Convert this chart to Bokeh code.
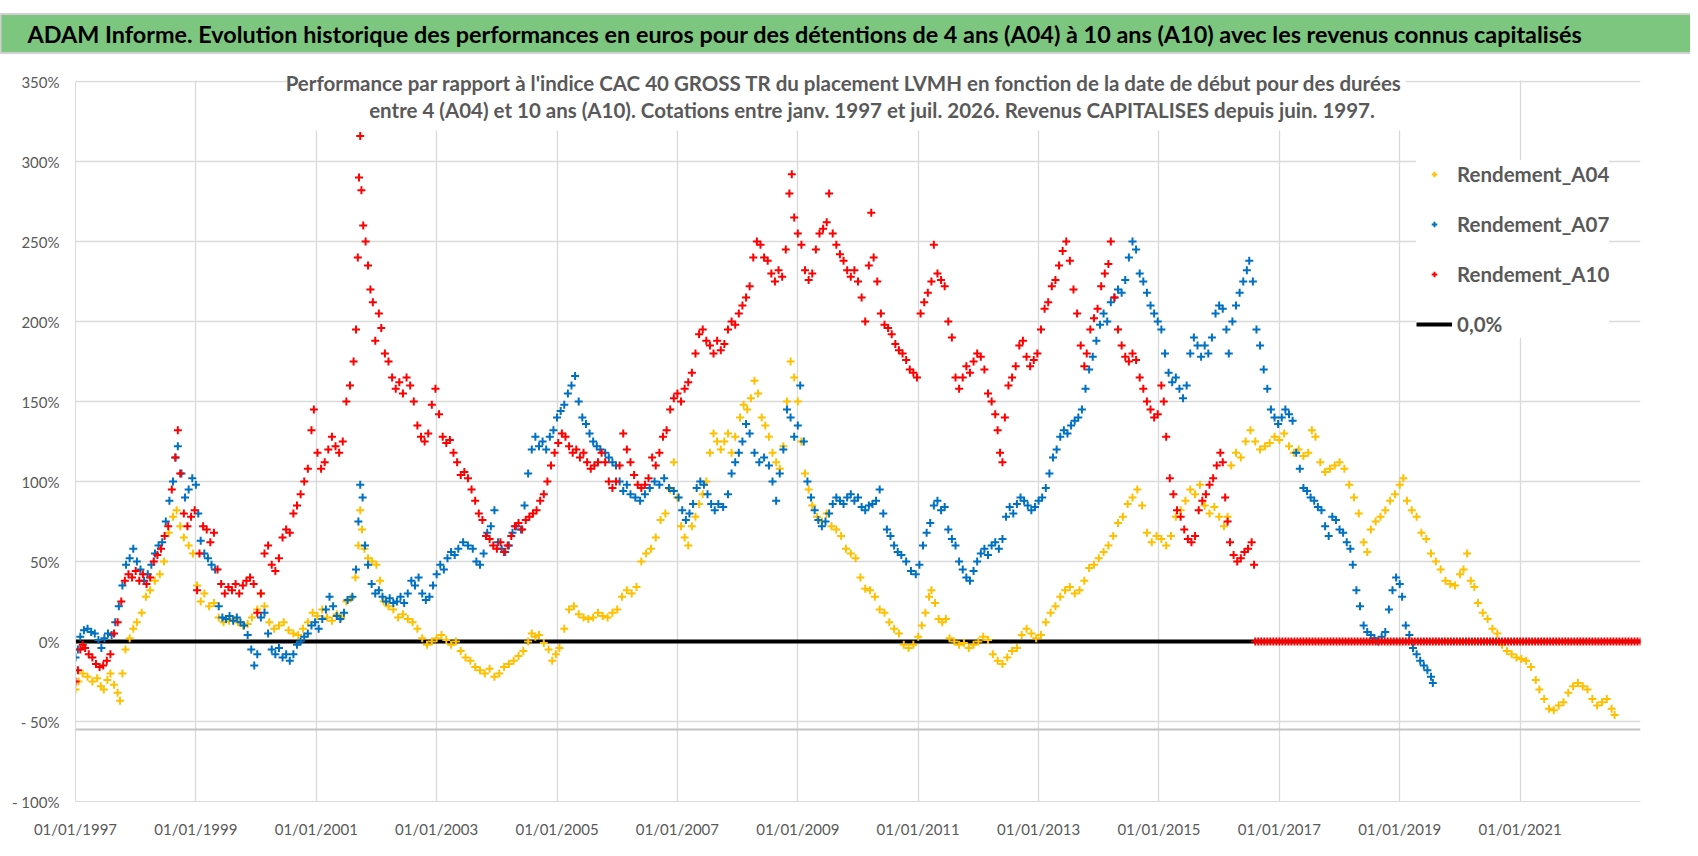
from bokeh.plotting import figure
from bokeh.models import Range1d, FixedTicker, Span, Legend, LegendItem, BoxAnnotation, Label
from bokeh.embed import file_html
from bokeh.resources import INLINE

#Texts
title_text = ("ADAM Informe. Evolution historique des performances en euros pour des détentions "
              "de 4 ans (A04) à 10 ans (A10) avec les revenus connus capitalisés")
subtitle_line1 = ("Performance par rapport à l'indice CAC 40 GROSS TR  du placement LVMH en fonction "
                  "de la date de début pour des durées")
subtitle_line2 = ("entre 4 (A04) et 10 ans (A10).  Cotations entre janv. 1997 et juil. 2026. "
                  "Revenus CAPITALISES depuis juin. 1997.")
series_names = ["Rendement_A04", "Rendement_A07", "Rendement_A10"]
zero_name = "0,0%"

#Ticks
x_ticks = [1997, 1999, 2001, 2003, 2005, 2007, 2009, 2011, 2013, 2015, 2017, 2019, 2021]
x_tick_labels = ["01/01/" + str(t) for t in x_ticks]
y_ticks = [-100, -50, 0, 50, 100, 150, 200, 250, 300, 350]
y_tick_labels = ["- 100%", "- 50%", "0%", "50%", "100%", "150%", "200%", "250%", "300%", "350%"]

#Data: (start date in years, performance in %)
a04_points = [
    (1997.00, -30), (1997.05, -25), (1997.12, -20), (1997.20, -22), (1997.28, -25), (1997.36, -23),
    (1997.42, -28), (1997.47, -30), (1997.53, -24), (1997.58, -20), (1997.64, -27), (1997.70, -32),
    (1997.74, -37), (1997.78, -20), (1997.83, -5), (1997.90, 2), (1997.96, 8), (1998.02, 12),
    (1998.10, 18), (1998.17, 28), (1998.24, 32), (1998.32, 38), (1998.40, 42), (1998.47, 50),
    (1998.55, 68), (1998.62, 78), (1998.68, 82), (1998.74, 72), (1998.80, 65), (1998.88, 60),
    (1998.95, 55), (1999.02, 35), (1999.08, 25), (1999.14, 30), (1999.22, 22), (1999.30, 24),
    (1999.38, 15), (1999.46, 12), (1999.55, 13), (1999.62, 14), (1999.70, 12), (1999.78, 10),
    (1999.86, 11), (1999.93, 15), (2000.02, 20), (2000.08, 30), (2000.14, 22), (2000.22, 12),
    (2000.30, 8), (2000.38, 10), (2000.46, 12), (2000.54, 7), (2000.62, 5), (2000.70, 4),
    (2000.78, 8), (2000.86, 12), (2000.94, 18), (2001.02, 16), (2001.10, 20), (2001.18, 15),
    (2001.26, 13), (2001.34, 17), (2001.42, 15), (2001.50, 25), (2001.58, 27), (2001.65, 40),
    (2001.70, 60), (2001.73, 82), (2001.76, 70), (2001.80, 58), (2001.86, 52), (2001.93, 50),
    (2002.00, 48), (2002.06, 38), (2002.12, 25), (2002.20, 22), (2002.28, 20), (2002.36, 15),
    (2002.44, 17), (2002.52, 14), (2002.60, 12), (2002.68, 8), (2002.76, 2), (2002.84, -2),
    (2002.92, 0), (2003.00, 2), (2003.08, 4), (2003.16, 1), (2003.24, -2), (2003.32, 0),
    (2003.40, -6), (2003.48, -10), (2003.56, -12), (2003.64, -16), (2003.72, -18), (2003.80, -20),
    (2003.88, -17), (2003.96, -22), (2004.04, -20), (2004.12, -16), (2004.20, -14), (2004.28, -12),
    (2004.36, -9), (2004.44, -6), (2004.52, 0), (2004.58, 5), (2004.64, 3), (2004.70, 4),
    (2004.78, -1), (2004.86, -5), (2004.92, -12), (2004.98, -8), (2005.04, -4), (2005.12, 8),
    (2005.20, 20), (2005.28, 22), (2005.36, 17), (2005.44, 15), (2005.52, 14), (2005.60, 15),
    (2005.68, 18), (2005.76, 16), (2005.84, 15), (2005.92, 18), (2006.00, 20), (2006.08, 28),
    (2006.16, 32), (2006.24, 30), (2006.32, 34), (2006.40, 50), (2006.48, 55), (2006.56, 58),
    (2006.64, 65), (2006.72, 76), (2006.80, 80), (2006.88, 95), (2006.94, 112), (2007.00, 90),
    (2007.06, 72), (2007.12, 65), (2007.18, 60), (2007.24, 72), (2007.30, 78), (2007.36, 86),
    (2007.42, 92), (2007.48, 100), (2007.54, 118), (2007.60, 130), (2007.66, 125), (2007.72, 120),
    (2007.78, 125), (2007.84, 130), (2007.90, 118), (2007.96, 128), (2008.04, 140), (2008.10, 148),
    (2008.16, 145), (2008.22, 152), (2008.28, 163), (2008.34, 155), (2008.40, 140), (2008.46, 135),
    (2008.52, 128), (2008.58, 118), (2008.64, 112), (2008.70, 108), (2008.76, 122), (2008.82, 150),
    (2008.88, 175), (2008.94, 165), (2009.00, 150), (2009.06, 125), (2009.12, 105), (2009.18, 95),
    (2009.24, 85), (2009.32, 78), (2009.40, 75), (2009.48, 80), (2009.56, 72), (2009.64, 70),
    (2009.72, 66), (2009.80, 58), (2009.88, 55), (2009.96, 52), (2010.04, 40), (2010.12, 33),
    (2010.20, 32), (2010.28, 28), (2010.36, 20), (2010.44, 18), (2010.52, 12), (2010.60, 8),
    (2010.68, 5), (2010.76, -2), (2010.84, -4), (2010.92, -2), (2011.00, 3), (2011.06, 10),
    (2011.12, 18), (2011.18, 28), (2011.22, 32), (2011.28, 24), (2011.34, 14), (2011.40, 12),
    (2011.46, 14), (2011.52, 2), (2011.60, 0), (2011.68, -2), (2011.76, -1), (2011.84, -4),
    (2011.92, -2), (2012.00, 0), (2012.08, 3), (2012.16, 1), (2012.24, -8), (2012.32, -12),
    (2012.40, -14), (2012.48, -10), (2012.56, -6), (2012.64, -4), (2012.72, 4), (2012.80, 8),
    (2012.88, 5), (2012.96, 2), (2013.04, 4), (2013.12, 12), (2013.20, 18), (2013.28, 22),
    (2013.36, 28), (2013.44, 32), (2013.52, 34), (2013.60, 30), (2013.68, 32), (2013.76, 38),
    (2013.84, 46), (2013.92, 48), (2014.00, 52), (2014.08, 56), (2014.16, 60), (2014.24, 66),
    (2014.32, 74), (2014.40, 78), (2014.48, 86), (2014.56, 90), (2014.64, 95), (2014.72, 85),
    (2014.80, 68), (2014.88, 62), (2014.96, 66), (2015.04, 64), (2015.12, 60), (2015.20, 66),
    (2015.28, 78), (2015.36, 82), (2015.44, 88), (2015.52, 95), (2015.60, 92), (2015.68, 98),
    (2015.76, 85), (2015.84, 80), (2015.92, 84), (2016.00, 78), (2016.08, 72), (2016.14, 78),
    (2016.20, 110), (2016.28, 118), (2016.36, 115), (2016.44, 125), (2016.52, 132), (2016.60, 125),
    (2016.68, 120), (2016.76, 122), (2016.84, 124), (2016.92, 128), (2017.00, 126), (2017.08, 130),
    (2017.16, 122), (2017.24, 118), (2017.32, 120), (2017.40, 116), (2017.48, 118), (2017.54, 132),
    (2017.60, 128), (2017.68, 112), (2017.76, 106), (2017.84, 108), (2017.92, 110), (2018.00, 112),
    (2018.08, 108), (2018.16, 98), (2018.24, 90), (2018.32, 80), (2018.40, 62), (2018.46, 56),
    (2018.52, 70), (2018.60, 75), (2018.68, 78), (2018.76, 82), (2018.84, 88), (2018.92, 92),
    (2019.00, 98), (2019.06, 102), (2019.12, 88), (2019.20, 82), (2019.28, 78), (2019.36, 68),
    (2019.44, 64), (2019.52, 55), (2019.60, 50), (2019.68, 45), (2019.76, 38), (2019.84, 36),
    (2019.92, 35), (2020.00, 42), (2020.06, 45), (2020.12, 55), (2020.18, 38), (2020.24, 34),
    (2020.30, 24), (2020.38, 18), (2020.46, 14), (2020.54, 8), (2020.62, 5), (2020.70, -2),
    (2020.78, -6), (2020.86, -8), (2020.94, -10), (2021.02, -11), (2021.10, -12), (2021.18, -16),
    (2021.26, -24), (2021.32, -30), (2021.40, -36), (2021.48, -42), (2021.56, -43), (2021.64, -40),
    (2021.72, -38), (2021.80, -32), (2021.88, -28), (2021.96, -26), (2022.04, -28), (2022.12, -30),
    (2022.20, -36), (2022.28, -40), (2022.36, -38), (2022.44, -36), (2022.52, -42), (2022.57, -46),
]

a07_points = [
    (1997.00, -10), (1997.04, -5), (1997.08, 3), (1997.14, 7), (1997.20, 8), (1997.26, 6),
    (1997.32, 5), (1997.38, 1), (1997.43, -4), (1997.48, 2), (1997.54, 5), (1997.60, 4),
    (1997.66, 12), (1997.72, 22), (1997.78, 35), (1997.84, 48), (1997.90, 52), (1997.96, 58),
    (1998.02, 50), (1998.08, 45), (1998.14, 38), (1998.20, 42), (1998.26, 48), (1998.32, 55),
    (1998.38, 60), (1998.44, 62), (1998.50, 75), (1998.56, 88), (1998.62, 100), (1998.66, 115),
    (1998.70, 122), (1998.76, 105), (1998.82, 90), (1998.88, 95), (1998.94, 102), (1999.00, 98),
    (1999.04, 80), (1999.08, 63), (1999.14, 55), (1999.20, 52), (1999.26, 48), (1999.32, 45),
    (1999.38, 22), (1999.44, 15), (1999.50, 14), (1999.56, 16), (1999.62, 13), (1999.68, 15),
    (1999.74, 12), (1999.80, 10), (1999.86, 4), (1999.92, -5), (1999.97, -15), (2000.02, -8),
    (2000.08, 15), (2000.14, 18), (2000.20, 5), (2000.26, -5), (2000.32, -8), (2000.38, -4),
    (2000.44, -10), (2000.50, -8), (2000.56, -12), (2000.62, -8), (2000.68, -2), (2000.74, 0),
    (2000.80, 3), (2000.86, 5), (2000.92, 10), (2000.98, 12), (2001.04, 8), (2001.10, 14),
    (2001.16, 20), (2001.22, 28), (2001.28, 22), (2001.34, 16), (2001.40, 14), (2001.46, 18),
    (2001.52, 26), (2001.60, 28), (2001.66, 45), (2001.70, 75), (2001.73, 98), (2001.77, 90),
    (2001.81, 60), (2001.86, 48), (2001.92, 36), (2001.98, 30), (2002.04, 32), (2002.10, 28),
    (2002.16, 25), (2002.22, 27), (2002.28, 24), (2002.34, 25), (2002.40, 28), (2002.46, 24),
    (2002.52, 30), (2002.58, 38), (2002.64, 35), (2002.70, 40), (2002.76, 30), (2002.82, 26),
    (2002.88, 28), (2002.94, 35), (2003.00, 42), (2003.06, 48), (2003.12, 45), (2003.18, 52),
    (2003.24, 56), (2003.30, 54), (2003.36, 58), (2003.44, 62), (2003.52, 60), (2003.60, 58),
    (2003.66, 50), (2003.72, 48), (2003.78, 55), (2003.84, 68), (2003.90, 72), (2003.96, 82),
    (2004.02, 62), (2004.08, 58), (2004.14, 56), (2004.20, 60), (2004.26, 68), (2004.32, 72),
    (2004.40, 70), (2004.46, 85), (2004.52, 105), (2004.58, 120), (2004.64, 128), (2004.70, 122),
    (2004.76, 125), (2004.82, 120), (2004.88, 128), (2004.94, 132), (2005.00, 140), (2005.06, 144),
    (2005.12, 148), (2005.18, 155), (2005.24, 160), (2005.30, 166), (2005.36, 150), (2005.42, 140),
    (2005.48, 136), (2005.54, 130), (2005.60, 125), (2005.66, 122), (2005.72, 120), (2005.80, 118),
    (2005.86, 115), (2005.92, 112), (2005.98, 110), (2006.04, 100), (2006.10, 94), (2006.16, 98),
    (2006.22, 92), (2006.30, 90), (2006.38, 88), (2006.46, 92), (2006.54, 96), (2006.62, 100),
    (2006.70, 98), (2006.78, 102), (2006.86, 96), (2006.94, 94), (2007.02, 90), (2007.08, 82),
    (2007.14, 76), (2007.20, 80), (2007.26, 86), (2007.32, 96), (2007.38, 100), (2007.44, 98),
    (2007.50, 92), (2007.56, 86), (2007.62, 82), (2007.68, 86), (2007.76, 84), (2007.84, 92),
    (2007.90, 105), (2007.96, 112), (2008.02, 118), (2008.08, 125), (2008.14, 136), (2008.20, 130),
    (2008.28, 118), (2008.36, 112), (2008.44, 115), (2008.52, 110), (2008.58, 100), (2008.64, 88),
    (2008.70, 105), (2008.76, 120), (2008.82, 145), (2008.88, 140), (2008.94, 128), (2009.00, 135),
    (2009.04, 160), (2009.10, 125), (2009.16, 100), (2009.22, 90), (2009.28, 82), (2009.34, 76),
    (2009.40, 72), (2009.46, 75), (2009.52, 80), (2009.58, 86), (2009.64, 90), (2009.70, 88),
    (2009.76, 86), (2009.82, 90), (2009.88, 92), (2009.94, 88), (2010.00, 90), (2010.06, 84),
    (2010.12, 82), (2010.18, 85), (2010.24, 86), (2010.30, 88), (2010.36, 95), (2010.42, 80),
    (2010.48, 70), (2010.54, 66), (2010.60, 60), (2010.66, 56), (2010.72, 54), (2010.80, 50),
    (2010.88, 44), (2010.96, 42), (2011.02, 48), (2011.08, 60), (2011.14, 68), (2011.20, 74),
    (2011.26, 85), (2011.32, 88), (2011.38, 82), (2011.44, 84), (2011.50, 70), (2011.56, 64),
    (2011.62, 60), (2011.68, 50), (2011.74, 45), (2011.80, 40), (2011.86, 38), (2011.92, 44),
    (2011.98, 50), (2012.04, 55), (2012.10, 58), (2012.16, 54), (2012.22, 60), (2012.28, 62),
    (2012.34, 58), (2012.40, 64), (2012.46, 78), (2012.52, 84), (2012.58, 80), (2012.64, 86),
    (2012.70, 90), (2012.76, 88), (2012.82, 85), (2012.88, 82), (2012.94, 84), (2013.00, 88),
    (2013.06, 90), (2013.12, 96), (2013.18, 105), (2013.24, 115), (2013.30, 120), (2013.36, 128),
    (2013.42, 132), (2013.48, 130), (2013.54, 135), (2013.60, 138), (2013.66, 140), (2013.72, 145),
    (2013.78, 158), (2013.84, 170), (2013.90, 178), (2013.96, 188), (2014.02, 198), (2014.08, 205),
    (2014.14, 200), (2014.20, 212), (2014.26, 215), (2014.32, 220), (2014.38, 218), (2014.44, 226),
    (2014.50, 240), (2014.56, 250), (2014.62, 245), (2014.68, 230), (2014.74, 225), (2014.80, 218),
    (2014.86, 210), (2014.92, 205), (2014.98, 200), (2015.04, 195), (2015.10, 180), (2015.16, 168),
    (2015.22, 162), (2015.28, 165), (2015.34, 158), (2015.40, 152), (2015.46, 160), (2015.52, 180),
    (2015.58, 190), (2015.64, 185), (2015.70, 178), (2015.76, 185), (2015.82, 180), (2015.88, 190),
    (2015.94, 205), (2016.00, 210), (2016.06, 208), (2016.12, 195), (2016.16, 180), (2016.22, 200),
    (2016.28, 210), (2016.34, 218), (2016.40, 225), (2016.46, 232), (2016.50, 238), (2016.56, 225),
    (2016.62, 195), (2016.68, 185), (2016.74, 170), (2016.80, 158), (2016.86, 145), (2016.92, 140),
    (2016.98, 136), (2017.04, 140), (2017.10, 145), (2017.16, 142), (2017.22, 138), (2017.28, 118),
    (2017.34, 108), (2017.40, 96), (2017.46, 94), (2017.52, 90), (2017.58, 88), (2017.64, 84),
    (2017.70, 82), (2017.76, 72), (2017.82, 66), (2017.88, 78), (2017.94, 76), (2018.00, 70),
    (2018.06, 68), (2018.12, 62), (2018.18, 58), (2018.22, 48), (2018.28, 32), (2018.34, 22),
    (2018.40, 10), (2018.46, 6), (2018.52, 4), (2018.58, 2), (2018.64, 0), (2018.70, 3),
    (2018.76, 6), (2018.82, 20), (2018.88, 32), (2018.94, 40), (2019.00, 36), (2019.04, 28),
    (2019.10, 10), (2019.16, 4), (2019.22, -4), (2019.28, -8), (2019.34, -12), (2019.40, -15),
    (2019.46, -18), (2019.52, -22), (2019.55, -26),
]

a10_points = [
    (1997.00, -25), (1997.04, -18), (1997.08, -5), (1997.12, -2), (1997.16, -4), (1997.22, -8),
    (1997.28, -10), (1997.34, -14), (1997.40, -16), (1997.46, -15), (1997.52, -12), (1997.58, -8),
    (1997.64, 5), (1997.70, 12), (1997.76, 25), (1997.82, 38), (1997.88, 42), (1997.94, 40),
    (1998.00, 44), (1998.06, 38), (1998.12, 42), (1998.18, 36), (1998.24, 40), (1998.30, 50),
    (1998.36, 54), (1998.42, 58), (1998.48, 66), (1998.54, 72), (1998.60, 95), (1998.66, 115),
    (1998.70, 132), (1998.74, 105), (1998.80, 80), (1998.86, 72), (1998.92, 78), (1998.98, 82),
    (1999.02, 32), (1999.06, 55), (1999.12, 72), (1999.18, 70), (1999.24, 62), (1999.30, 68),
    (1999.36, 45), (1999.42, 36), (1999.48, 30), (1999.54, 34), (1999.60, 32), (1999.66, 36),
    (1999.72, 30), (1999.78, 35), (1999.84, 38), (1999.90, 40), (1999.96, 36), (2000.02, 18),
    (2000.08, 30), (2000.14, 55), (2000.20, 60), (2000.26, 48), (2000.32, 44), (2000.38, 52),
    (2000.44, 65), (2000.50, 70), (2000.56, 68), (2000.62, 80), (2000.68, 85), (2000.74, 92),
    (2000.80, 100), (2000.86, 108), (2000.92, 132), (2000.96, 145), (2001.02, 118), (2001.08, 108),
    (2001.14, 112), (2001.20, 120), (2001.26, 128), (2001.32, 122), (2001.38, 118), (2001.44, 125),
    (2001.50, 150), (2001.56, 160), (2001.62, 175), (2001.66, 195), (2001.69, 240), (2001.71, 290),
    (2001.73, 316), (2001.75, 282), (2001.78, 260), (2001.82, 250), (2001.86, 235), (2001.90, 220),
    (2001.94, 212), (2001.98, 188), (2002.04, 205), (2002.08, 196), (2002.14, 180), (2002.20, 175),
    (2002.26, 165), (2002.32, 158), (2002.38, 162), (2002.44, 155), (2002.50, 165), (2002.56, 160),
    (2002.62, 150), (2002.68, 135), (2002.74, 128), (2002.80, 125), (2002.86, 130), (2002.92, 148),
    (2002.98, 158), (2003.04, 142), (2003.10, 128), (2003.16, 124), (2003.22, 126), (2003.28, 118),
    (2003.34, 112), (2003.40, 104), (2003.46, 106), (2003.52, 102), (2003.58, 95), (2003.64, 88),
    (2003.70, 80), (2003.76, 76), (2003.82, 66), (2003.88, 64), (2003.94, 60), (2004.00, 58),
    (2004.06, 62), (2004.12, 56), (2004.18, 60), (2004.24, 66), (2004.30, 72), (2004.36, 74),
    (2004.42, 70), (2004.48, 76), (2004.54, 78), (2004.60, 80), (2004.66, 82), (2004.72, 88),
    (2004.78, 92), (2004.84, 100), (2004.90, 110), (2004.96, 118), (2005.02, 124), (2005.08, 130),
    (2005.14, 128), (2005.20, 122), (2005.26, 118), (2005.32, 120), (2005.38, 115), (2005.44, 118),
    (2005.50, 112), (2005.56, 108), (2005.62, 110), (2005.68, 112), (2005.74, 118), (2005.80, 112),
    (2005.86, 100), (2005.92, 96), (2005.98, 100), (2006.04, 110), (2006.10, 130), (2006.16, 120),
    (2006.22, 112), (2006.28, 104), (2006.34, 98), (2006.40, 96), (2006.46, 98), (2006.52, 102),
    (2006.58, 115), (2006.64, 110), (2006.70, 118), (2006.76, 128), (2006.82, 132), (2006.88, 145),
    (2006.94, 152), (2007.00, 155), (2007.06, 150), (2007.12, 158), (2007.18, 162), (2007.24, 168),
    (2007.30, 180), (2007.36, 192), (2007.42, 195), (2007.48, 188), (2007.54, 185), (2007.60, 180),
    (2007.66, 188), (2007.72, 182), (2007.78, 186), (2007.84, 195), (2007.90, 200), (2007.96, 198),
    (2008.02, 205), (2008.08, 210), (2008.14, 215), (2008.20, 222), (2008.26, 240), (2008.32, 250),
    (2008.38, 248), (2008.44, 240), (2008.50, 238), (2008.56, 230), (2008.62, 225), (2008.68, 232),
    (2008.74, 228), (2008.80, 245), (2008.86, 280), (2008.90, 292), (2008.94, 265), (2009.00, 255),
    (2009.06, 248), (2009.12, 232), (2009.18, 226), (2009.24, 230), (2009.30, 245), (2009.36, 255),
    (2009.42, 258), (2009.48, 262), (2009.52, 280), (2009.58, 255), (2009.64, 248), (2009.70, 242),
    (2009.76, 238), (2009.82, 232), (2009.88, 228), (2009.94, 232), (2010.00, 225), (2010.06, 215),
    (2010.12, 200), (2010.18, 235), (2010.22, 268), (2010.26, 240), (2010.32, 225), (2010.38, 205),
    (2010.44, 198), (2010.50, 196), (2010.56, 192), (2010.62, 186), (2010.68, 182), (2010.74, 180),
    (2010.80, 176), (2010.86, 170), (2010.92, 168), (2010.98, 165), (2011.04, 205), (2011.10, 212),
    (2011.16, 218), (2011.22, 225), (2011.26, 248), (2011.32, 230), (2011.38, 226), (2011.44, 222),
    (2011.50, 200), (2011.56, 190), (2011.62, 165), (2011.68, 158), (2011.74, 165), (2011.80, 172),
    (2011.86, 168), (2011.92, 175), (2011.98, 180), (2012.04, 178), (2012.10, 170), (2012.16, 155),
    (2012.22, 150), (2012.28, 142), (2012.32, 132), (2012.36, 118), (2012.40, 112), (2012.44, 140),
    (2012.50, 160), (2012.56, 165), (2012.62, 172), (2012.68, 185), (2012.74, 188), (2012.80, 178),
    (2012.86, 172), (2012.92, 176), (2012.98, 180), (2013.04, 195), (2013.10, 208), (2013.16, 212),
    (2013.22, 222), (2013.28, 226), (2013.34, 235), (2013.40, 244), (2013.46, 250), (2013.52, 238),
    (2013.58, 220), (2013.64, 205), (2013.70, 185), (2013.76, 172), (2013.80, 180), (2013.86, 195),
    (2013.92, 202), (2013.98, 208), (2014.04, 222), (2014.10, 230), (2014.16, 236), (2014.20, 250),
    (2014.26, 215), (2014.32, 195), (2014.38, 185), (2014.44, 178), (2014.50, 175), (2014.56, 180),
    (2014.62, 176), (2014.68, 165), (2014.74, 158), (2014.80, 150), (2014.86, 145), (2014.92, 140),
    (2014.98, 142), (2015.04, 160), (2015.08, 150), (2015.12, 128), (2015.18, 102), (2015.24, 92),
    (2015.30, 82), (2015.36, 78), (2015.42, 70), (2015.48, 64), (2015.54, 62), (2015.60, 66),
    (2015.66, 82), (2015.72, 88), (2015.78, 92), (2015.84, 98), (2015.90, 102), (2015.96, 110),
    (2016.02, 118), (2016.06, 112), (2016.10, 90), (2016.14, 75), (2016.18, 62), (2016.24, 54),
    (2016.30, 50), (2016.36, 52), (2016.42, 56), (2016.48, 58), (2016.54, 62), (2016.58, 48),
    #after mid-2016 the 10-year result is not known yet: shown at 0
    (2016.60, 0), (2016.65, 0), (2016.70, 0), (2016.75, 0), (2016.80, 0), (2016.85, 0),
    (2016.90, 0), (2016.95, 0), (2017.00, 0), (2017.05, 0), (2017.10, 0), (2017.15, 0),
    (2017.20, 0), (2017.25, 0), (2017.30, 0), (2017.35, 0), (2017.40, 0), (2017.45, 0),
    (2017.50, 0), (2017.55, 0), (2017.60, 0), (2017.65, 0), (2017.70, 0), (2017.75, 0),
    (2017.80, 0), (2017.85, 0), (2017.90, 0), (2017.95, 0), (2018.00, 0), (2018.05, 0),
    (2018.10, 0), (2018.15, 0), (2018.20, 0), (2018.25, 0), (2018.30, 0), (2018.35, 0),
    (2018.40, 0), (2018.45, 0), (2018.50, 0), (2018.55, 0), (2018.60, 0), (2018.65, 0),
    (2018.70, 0), (2018.75, 0), (2018.80, 0), (2018.85, 0), (2018.90, 0), (2018.95, 0),
    (2019.00, 0), (2019.05, 0), (2019.10, 0), (2019.15, 0), (2019.20, 0), (2019.25, 0),
    (2019.30, 0), (2019.35, 0), (2019.40, 0), (2019.45, 0), (2019.50, 0), (2019.55, 0),
    (2019.60, 0), (2019.65, 0), (2019.70, 0), (2019.75, 0), (2019.80, 0), (2019.85, 0),
    (2019.90, 0), (2019.95, 0), (2020.00, 0), (2020.05, 0), (2020.10, 0), (2020.15, 0),
    (2020.20, 0), (2020.25, 0), (2020.30, 0), (2020.35, 0), (2020.40, 0), (2020.45, 0),
    (2020.50, 0), (2020.55, 0), (2020.60, 0), (2020.65, 0), (2020.70, 0), (2020.75, 0),
    (2020.80, 0), (2020.85, 0), (2020.90, 0), (2020.95, 0), (2021.00, 0), (2021.05, 0),
    (2021.10, 0), (2021.15, 0), (2021.20, 0), (2021.25, 0), (2021.30, 0), (2021.35, 0),
    (2021.40, 0), (2021.45, 0), (2021.50, 0), (2021.55, 0), (2021.60, 0), (2021.65, 0),
    (2021.70, 0), (2021.75, 0), (2021.80, 0), (2021.85, 0), (2021.90, 0), (2021.95, 0),
    (2022.00, 0), (2022.05, 0), (2022.10, 0), (2022.15, 0), (2022.20, 0), (2022.25, 0),
    (2022.30, 0), (2022.35, 0), (2022.40, 0), (2022.45, 0), (2022.50, 0), (2022.55, 0),
    (2022.60, 0), (2022.65, 0), (2022.70, 0), (2022.75, 0), (2022.80, 0), (2022.85, 0),
    (2022.90, 0), (2022.95, 0), (2023.00, 0),
]

#Reference line at 0%
zero_dates = [1997.0, 2023.0]
zero_values = [0.0, 0.0]

#Colors and fonts
colors = ["#FFC000", "#0070C0", "#FF0000"]
gray_text = "#595959"
grid_color = "#D9D9D9"
band_color = "#7CC67F"
font = "Lato"

#Main chart: the frame reaches a little above 350% so the subtitle is not cut
p = figure(width=1690, height=848, x_range=Range1d(1997, 2023), y_range=Range1d(-100, 363.125),
           title=title_text, toolbar_location=None, output_backend="svg",
           min_border_left=75, min_border_right=50, min_border_top=60, min_border_bottom=47)
p.outline_line_color = None

#Green title band
p.title.align = "left"
p.title.offset = -75
p.title.standoff = 15
p.title.text_font = font
p.title.text_font_size = "23.4px"
p.title.text_font_style = "bold"
p.title.text_color = "black"
p.title.background_fill_color = band_color
p.title.border_line_color = "#D0D0D0"
p.title.border_line_width = 2
p.title.padding = dict(left=27, right=300, top=6, bottom=5)

p.xaxis.ticker = FixedTicker(ticks=x_ticks)
p.xaxis.major_label_overrides = dict(zip(x_ticks, x_tick_labels))
p.yaxis.ticker = FixedTicker(ticks=y_ticks)
p.yaxis.major_label_overrides = dict(zip(y_ticks, y_tick_labels))
p.yaxis.bounds = (-100, 350)
p.axis.major_tick_line_color = None
p.axis.minor_tick_line_color = None
p.axis.major_tick_out = 0
p.axis.axis_line_color = grid_color
p.axis.major_label_text_font = font
p.axis.major_label_text_font_size = "15px"
p.axis.major_label_text_color = gray_text
p.xaxis.major_label_standoff = 18
p.yaxis.major_label_standoff = 16
p.grid.grid_line_color = grid_color
p.grid.grid_line_width = 1.3

#Hide the vertical grid above 350%
p.add_layout(BoxAnnotation(left=1997, right=2023, bottom=350.7, top=363.125,
                           fill_color="white", fill_alpha=1.0, line_color=None))

#Horizontal axis line under the -50% grid line
p.add_layout(Span(location=-55, dimension="width", line_color="#C4C4C4", line_width=2))

#Subtitle over a white box that hides the grid
p.add_layout(BoxAnnotation(left=2000.57, right=2019.10, bottom=319.4, top=363.125,
                           fill_color="white", fill_alpha=1.0, line_color=None))
for line_text, x_center, y_center in [(subtitle_line1, 846, 82), (subtitle_line2, 874, 109)]:
    p.add_layout(Label(x=x_center, y=y_center, x_units="canvas", y_units="canvas", text=line_text,
                       text_font=font, text_font_size="20.5px", text_font_style="bold",
                       text_color=gray_text, text_align="center", text_baseline="middle"))

#Series
zero_r = p.line(zero_dates, zero_values, line_color="black", line_width=4)
renderers = []
for points, color in zip([a04_points, a07_points, a10_points], colors):
    dates = [d for d, v in points]
    values = [v for d, v in points]
    r = p.scatter(dates, values, marker="cross", size=8, line_width=2, line_color=color)
    renderers.append(r)

#Legend
items = [LegendItem(label=name, renderers=[r]) for name, r in zip(series_names, renderers)]
items.append(LegendItem(label=zero_name, renderers=[zero_r]))
legend = Legend(items=items, location=(1341, 463), padding=10, spacing=22, margin=0,
                glyph_width=36, glyph_height=14, label_height=28, label_standoff=5,
                label_text_font=font, label_text_font_size="20.5px", label_text_font_style="bold",
                label_text_color=gray_text, background_fill_color="white", background_fill_alpha=1.0,
                border_line_color=None)
p.add_layout(legend)

open("out.html", "w").write(file_html(p, INLINE))
